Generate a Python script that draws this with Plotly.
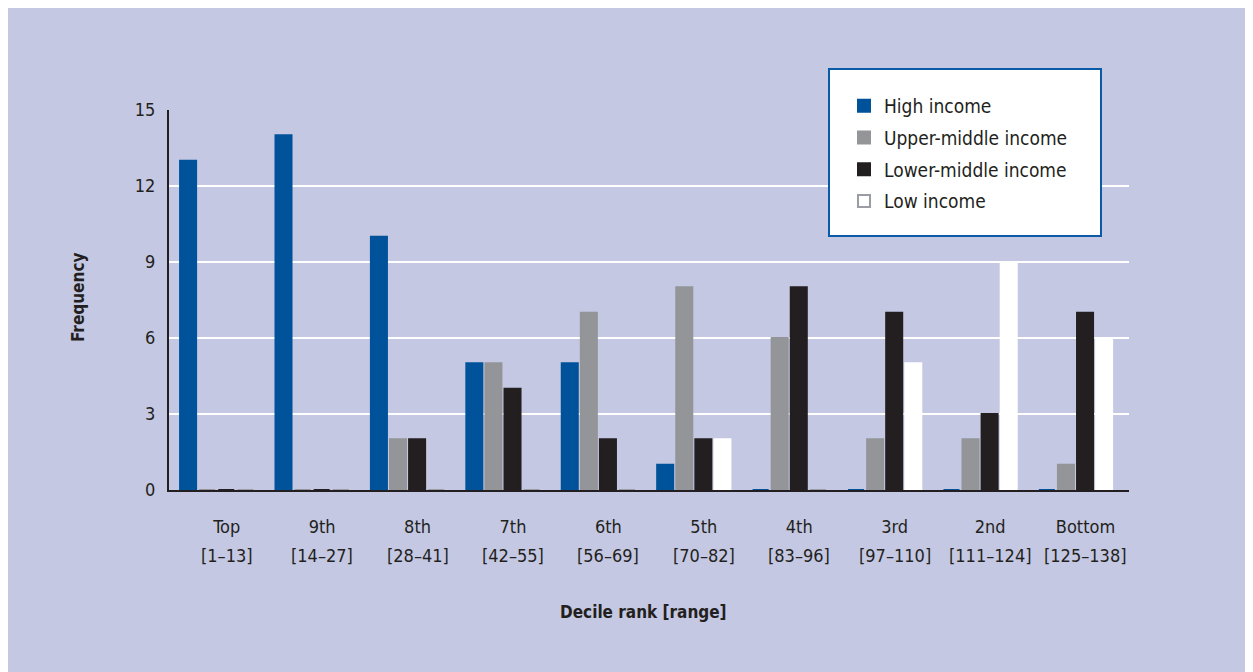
import plotly.graph_objects as go

decile_names = ["Top", "9th", "8th", "7th", "6th", "5th", "4th", "3rd", "2nd", "Bottom"]
decile_ranges = ["[1–13]", "[14–27]", "[28–41]", "[42–55]", "[56–69]",
                 "[70–82]", "[83–96]", "[97–110]", "[111–124]", "[125–138]"]
high_income = [13, 14, 10, 5, 5, 1, 0, 0, 0, 0]
upper_middle = [0, 0, 2, 5, 7, 8, 6, 2, 2, 1]
lower_middle = [0, 0, 2, 4, 2, 2, 8, 7, 3, 7]
low_income = [0, 0, 0, 0, 0, 2, 0, 5, 9, 6]
y_ticks = [0, 3, 6, 9, 12, 15]

FONT = "Liberation Sans Narrow, DejaVu Sans Condensed, Arial Narrow, sans-serif"
TXT = "#231F20"
BG = "#C4C8E2"

series = [
    ("High income", high_income, "#00529B", None),
    ("Upper-middle income", upper_middle, "#939598", None),
    ("Lower-middle income", lower_middle, "#231F20", None),
    ("Low income", low_income, "#FFFFFF", "#9A9CA6"),
]

fig = go.Figure()
for i, (name, vals, col, zero_col) in enumerate(series):
    line_cols = [zero_col if v == 0 else col for v in vals] if zero_col else col
    fig.add_trace(go.Bar(
        x=decile_names, y=vals, name=name,
        marker=dict(color=col, line=dict(color=line_cols, width=2)),
        legendgroup=f"g{i}",
    ))

# page offsets (body margin) : figure origin at page (7, 8)
OX, OY = 7, 8
W, H = 1253 - OX, 672 - OY
L, T = 168 - OX, 110 - OY
R = W - (1128 - OX)
B = H - (490 - OY)
pw, ph = W - L - R, H - T - B

def px_x(p):
    return (p - OX - L) / pw

def px_y(p):
    return (H - B - (p - OY)) / ph

fig.add_shape(type="rect", xref="paper", yref="paper",
              x0=px_x(828), x1=px_x(1100), y0=px_y(236), y1=px_y(69),
              fillcolor="white", line=dict(color="#0A5AA8", width=2), layer="above")

for name, rng in zip(decile_names, decile_ranges):
    fig.add_annotation(x=name, xref="x", y=px_y(555), yref="paper",
                       text=rng, showarrow=False, xshift=10, yanchor="middle",
                       font=dict(family=FONT, size=18, color=TXT))

fig.add_annotation(x=px_x(642), xref="paper", y=px_y(612), yref="paper",
                   text="<b>Decile rank [range]</b>", showarrow=False, yanchor="middle",
                   font=dict(family=FONT, size=17, color=TXT))
fig.add_annotation(x=px_x(77), xref="paper", y=px_y(298), yref="paper",
                   text="<b>Frequency</b>", showarrow=False, textangle=-90,
                   xanchor="center", yanchor="middle",
                   font=dict(family=FONT, size=17, color=TXT))

fig.update_layout(
    width=W, height=H,
    margin=dict(l=L, r=R, t=T, b=B, autoexpand=False),
    paper_bgcolor=BG,
    plot_bgcolor="rgba(0,0,0,0)",
    barmode="group",
    bargap=0.2,
    bargroupgap=0.16,
    font=dict(family=FONT, color=TXT, size=16),
    showlegend=True,
    legend=dict(
        x=px_x(843), y=px_y(87), xanchor="left", yanchor="top",
        bgcolor="rgba(0,0,0,0)", borderwidth=0,
        font=dict(family=FONT, size=19, color=TXT),
        tracegroupgap=4,
    ),
    xaxis=dict(
        showgrid=False, showline=True, linecolor=TXT, linewidth=2,
        ticks="", tickfont=dict(size=18, color=TXT, family=FONT),
        ticklabelshift=10, ticklabelstandoff=19,
        layer="below traces",
        automargin=False,
    ),
    yaxis=dict(
        range=[0, 15], tickvals=y_ticks, ticktext=[str(v) for v in y_ticks],
        showgrid=True, gridcolor="white", gridwidth=2,
        showline=True, linecolor=TXT, linewidth=2,
        zeroline=False, ticks="", ticklabelstandoff=8,
        tickfont=dict(size=18, color=TXT, family=FONT),
        automargin=False,
    ),
)

fig.write_html("out.html")
